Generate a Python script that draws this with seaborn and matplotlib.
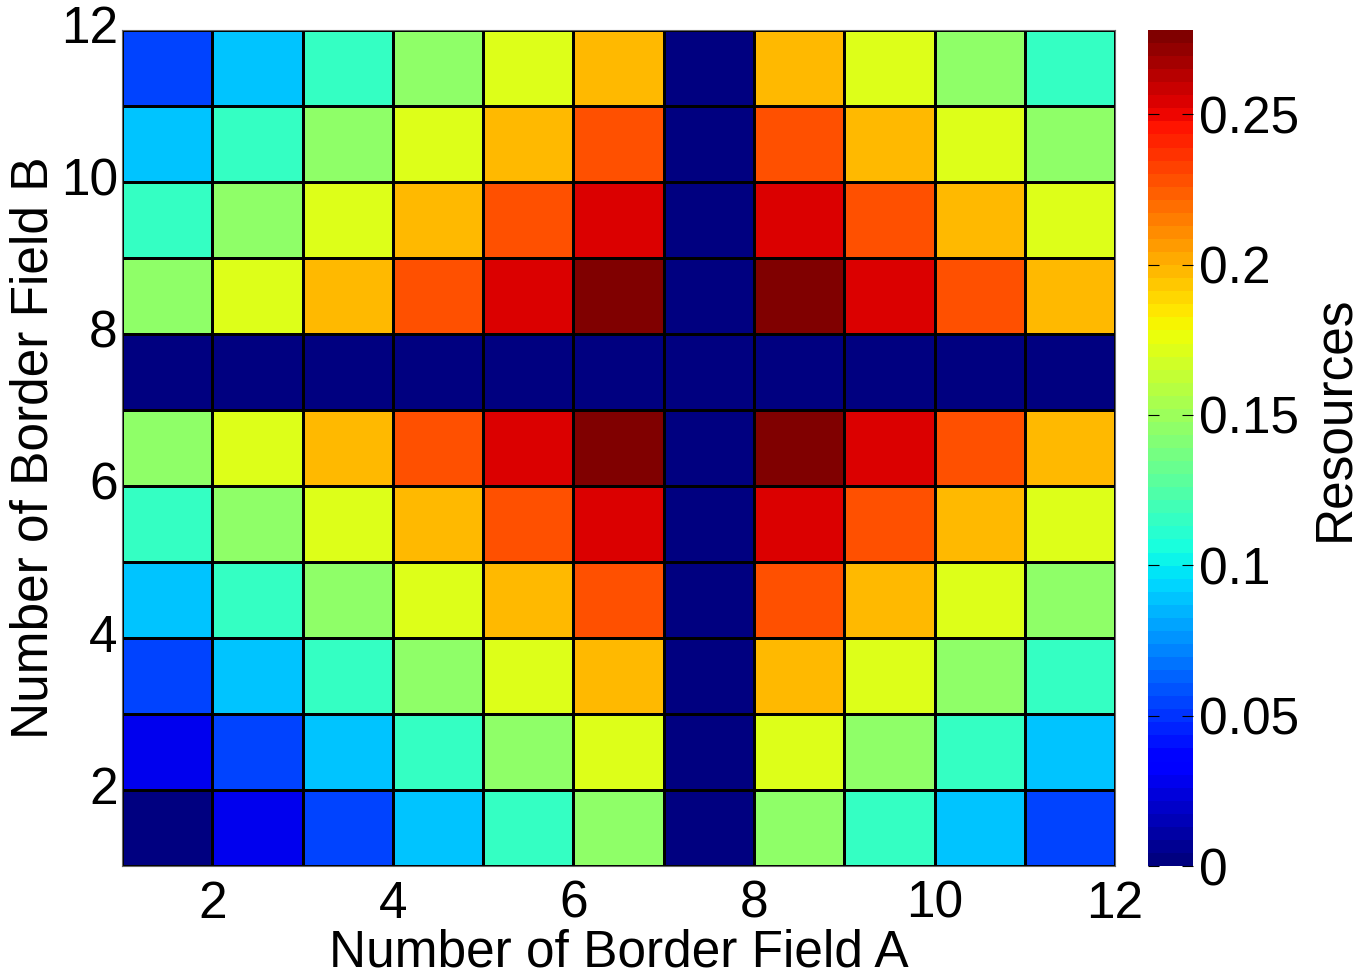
import numpy as np
import pandas as pd
import seaborn as sns
import matplotlib.pyplot as plt

# Resources per cell, rows from Border Field B = 1 (bottom) to 11 (top),
# columns from Border Field A = 1 to 11
row_b1 = [0.000, 0.028, 0.056, 0.087, 0.114, 0.145, 0.0, 0.145, 0.114, 0.087, 0.056]
row_b2 = [0.028, 0.056, 0.087, 0.114, 0.145, 0.170, 0.0, 0.170, 0.145, 0.114, 0.087]
row_b3 = [0.056, 0.087, 0.114, 0.145, 0.170, 0.196, 0.0, 0.196, 0.170, 0.145, 0.114]
row_b4 = [0.087, 0.114, 0.145, 0.170, 0.196, 0.226, 0.0, 0.226, 0.196, 0.170, 0.145]
row_b5 = [0.114, 0.145, 0.170, 0.196, 0.226, 0.253, 0.0, 0.253, 0.226, 0.196, 0.170]
row_b6 = [0.145, 0.170, 0.196, 0.226, 0.253, 0.278, 0.0, 0.278, 0.253, 0.226, 0.196]
row_b7 = [0.0] * 11
row_b8 = [0.145, 0.170, 0.196, 0.226, 0.253, 0.278, 0.0, 0.278, 0.253, 0.226, 0.196]
row_b9 = [0.114, 0.145, 0.170, 0.196, 0.226, 0.253, 0.0, 0.253, 0.226, 0.196, 0.170]
row_b10 = [0.087, 0.114, 0.145, 0.170, 0.196, 0.226, 0.0, 0.226, 0.196, 0.170, 0.145]
row_b11 = [0.056, 0.087, 0.114, 0.145, 0.170, 0.196, 0.0, 0.196, 0.170, 0.145, 0.114]

field_a = list(range(1, 12))
field_b = list(range(1, 12))
tick_vals = [2, 4, 6, 8, 10, 12]
cbar_ticks = [0, 0.05, 0.1, 0.15, 0.2, 0.25]

df = pd.DataFrame([row_b1, row_b2, row_b3, row_b4, row_b5, row_b6,
                   row_b7, row_b8, row_b9, row_b10, row_b11],
                  index=field_b, columns=field_a)

plt.rcParams['font.family'] = ['Liberation Sans', 'DejaVu Sans']
fs = 37

fig = plt.figure(figsize=(13.62, 9.8), dpi=100)
ax = fig.add_axes([0.0896, 0.1163, 0.7291, 0.8531])
cax = fig.add_axes([0.8429, 0.1163, 0.0331, 0.8531])

sns.heatmap(df, ax=ax, cbar_ax=cax, cmap=plt.get_cmap('jet', 64),
            vmin=0, vmax=0.278, linewidths=1, linecolor='black',
            cbar_kws={'ticks': cbar_ticks})

ax.set_ylim(0, 11)
ax.set_xlim(0, 11)
ax.set_xticks([v - 1 for v in tick_vals])
ax.set_xticklabels([str(v) for v in tick_vals], rotation=0)
ax.set_yticks([v - 1 for v in tick_vals])
ax.set_yticklabels([str(v) for v in tick_vals], rotation=0)
ax.tick_params(axis='x', length=0, labelsize=fs, pad=10)
ax.tick_params(axis='y', length=0, labelsize=fs, pad=3)
ax.set_xlabel('Number of Border Field A', fontsize=fs, labelpad=0)
ax.set_ylabel('Number of Border Field B', fontsize=fs)
ax.yaxis.set_label_coords(-0.064, 0.5)
for s in ax.spines.values():
    s.set_visible(True)
    s.set_color('#666666')

cb = ax.collections[0].colorbar
cb.set_ticklabels(['0', '0.05', '0.1', '0.15', '0.2', '0.25'])
cb.outline.set_edgecolor('#666666')
cax.tick_params(direction='in', left=True, right=True, length=8,
                labelsize=fs, pad=4)
cb.set_label('Resources', fontsize=fs, labelpad=4)
cax.yaxis.set_label_coords(3.6, 0.535)

fig.savefig('out.png', dpi=100)
